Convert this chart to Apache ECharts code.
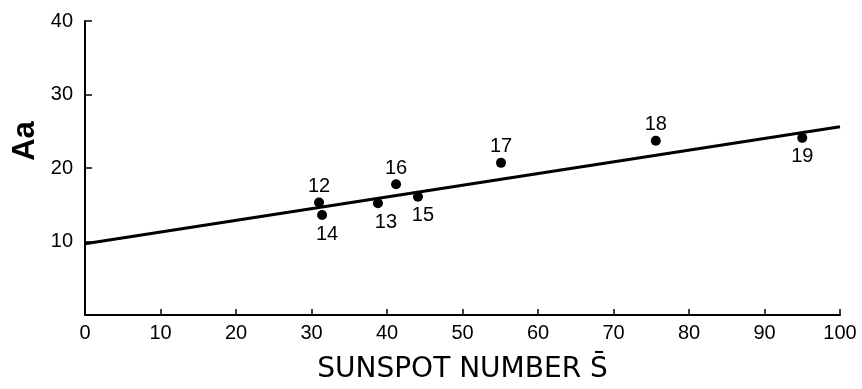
<!DOCTYPE html>
<html>
<head>
<meta charset="utf-8">
<script src="https://cdn.jsdelivr.net/npm/echarts@6/dist/echarts.min.js"></script>
<style>html,body{margin:0;padding:0;background:#fff;}#c{width:862px;height:389px;}</style>
</head>
<body>
<div id="c"></div>
<script>
const cycleLabels = ['12', '14', '13', '16', '15', '17', '18', '19'];
const sunspotValues = [31.0, 31.4, 38.8, 41.2, 44.1, 55.1, 75.6, 95.0];
const aaValues = [15.3, 13.6, 15.2, 17.8, 16.1, 20.7, 23.7, 24.1];
const labelSides = ['top', 'bottom', 'bottom', 'top', 'bottom', 'top', 'top', 'bottom'];
const fitLineX = [0, 100];
const fitLineY = [9.7, 25.6];
const xTicks = [0, 10, 20, 30, 40, 50, 60, 70, 80, 90, 100];
const yTicks = [0, 10, 20, 30, 40];

const font = 'Liberation Sans';
const chart = echarts.init(document.getElementById('c'), null, {renderer: 'canvas'});

const labelOffsets = [[0, 0], [5, 0], [8, 0], [0, 0], [5, 0], [0, 0], [0, 0], [0, 0]];
const scatterData = sunspotValues.map((x, i) => ({
  value: [x, aaValues[i]],
  label: {
    show: true,
    formatter: cycleLabels[i],
    position: labelSides[i],
    distance: labelSides[i] === 'top' ? 1 : 4,
    offset: labelOffsets[i]
  }
}));

chart.setOption({
  animation: false,
  backgroundColor: '#fff',
  grid: {left: 85, right: 22, top: 21, bottom: 67},
  xAxis: {
    type: 'value', min: xTicks[0], max: xTicks[xTicks.length - 1], interval: 10,
    name: 'SUNSPOT NUMBER S\u0304', nameLocation: 'middle', nameGap: 41,
    nameTextStyle: {fontFamily: 'DejaVu Sans', fontSize: 28, color: '#000'},
    axisLine: {lineStyle: {color: '#000', width: 2}},
    axisTick: {inside: true, length: 6, lineStyle: {color: '#000', width: 1.5}},
    axisLabel: {fontFamily: font, fontSize: 20, color: '#000', margin: 8},
    splitLine: {show: false}
  },
  yAxis: {
    type: 'value', min: yTicks[0], max: yTicks[yTicks.length - 1], interval: 10,
    axisLine: {show: true, lineStyle: {color: '#000', width: 2}},
    axisTick: {show: true, inside: true, length: 7, lineStyle: {color: '#000', width: 1.5}},
    axisLabel: {fontFamily: font, fontSize: 20, color: '#000', margin: 12, showMinLabel: false,
      formatter: v => v === 0 ? '' : String(v)},
    splitLine: {show: false}
  },
  graphic: [{
    type: 'text', x: 25, y: 141, rotation: Math.PI / 2,
    style: {text: 'Aa', fontFamily: font, fontSize: 31, fontWeight: 'bold', fill: '#000',
      align: 'center', verticalAlign: 'middle'}
  }],
  series: [
    {
      type: 'line', data: fitLineX.map((x, i) => [x, fitLineY[i]]),
      showSymbol: false, lineStyle: {color: '#000', width: 3}, z: 2
    },
    {
      type: 'scatter', data: scatterData, symbolSize: 10,
      itemStyle: {color: '#000', opacity: 1},
      label: {fontFamily: font, fontSize: 20, color: '#000'},
      z: 3
    }
  ]
});
</script>
</body>
</html>
